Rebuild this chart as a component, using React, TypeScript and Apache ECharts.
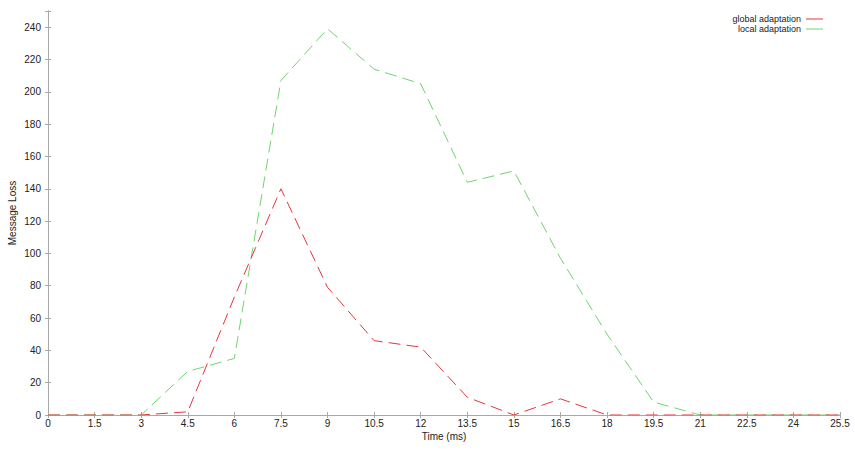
import React, { useEffect, useRef } from "react";
import * as echarts from "echarts";

const times = [0, 1.5, 3, 4.5, 6, 7.5, 9, 10.5, 12, 13.5, 15, 16.5, 18, 19.5, 21, 22.5, 24, 25.5];
const globalAdaptation = [0, 0, 0, 2, 73, 140, 79, 46, 42, 11, 0, 10, 0, 0, 0, 0, 0, 0];
const localAdaptation = [0, 0, 0, 27, 35, 207, 239, 214, 205, 144, 151, 97, 50, 8, 0, 0, 0, 0];
const seriesNames = ["global adaptation", "local adaptation"];
const xTitle = "Time (ms)";
const yTitle = "Message Loss";

const FONT = "Liberation Sans";
const AXIS_COLOR = "#a8a8a8";
const TEXT_COLOR = "#222222";

export default function App() {
  const ref = useRef<HTMLDivElement>(null);
  useEffect(() => {
    if (!ref.current) return;
    const chart = echarts.init(ref.current, null, { renderer: "svg" });
    const mk = (vals: number[]) => times.map((t, i) => [t, vals[i]]);
    const tickStyle = { show: true, inside: true, length: 3, lineStyle: { color: AXIS_COLOR } };
    chart.setOption({
      animation: false,
      backgroundColor: "#ffffff",
      textStyle: { fontFamily: FONT },
      grid: { left: 48, right: 15, top: 11, bottom: 35, containLabel: false, outerBoundsMode: "none" },
      legend: {
        orient: "vertical",
        right: 32,
        top: 14,
        padding: 0,
        align: "right",
        itemGap: 0,
        itemWidth: 17,
        itemHeight: 10,
        icon: "path://M0,4.5 L17,4.5 L17,5.5 L0,5.5 Z",
        textStyle: { fontFamily: FONT, fontSize: 9, lineHeight: 10, color: TEXT_COLOR },
        data: seriesNames,
      },
      xAxis: [
        {
          type: "value",
          min: 0,
          max: 25.5,
          interval: 1.5,
          name: xTitle,
          nameLocation: "middle",
          nameGap: 16,
          nameMoveOverlap: false,
          nameTextStyle: { fontFamily: FONT, fontSize: 10, color: TEXT_COLOR },
          axisLine: { show: true, lineStyle: { color: AXIS_COLOR, width: 1 } },
          axisTick: tickStyle,
          axisLabel: { fontFamily: FONT, fontSize: 10, color: TEXT_COLOR, margin: 3 },
          splitLine: { show: false },
        },
        {
          type: "value",
          position: "top",
          min: 0,
          max: 25.5,
          interval: 1.5,
          axisLine: { show: true, lineStyle: { color: AXIS_COLOR, width: 1 } },
          axisTick: tickStyle,
          axisLabel: { show: false },
          splitLine: { show: false },
        },
      ],
      yAxis: [
        {
          type: "value",
          min: 0,
          max: 250,
          interval: 20,
          name: yTitle,
          nameLocation: "middle",
          nameGap: 31,
          nameMoveOverlap: false,
          nameTextStyle: { fontFamily: FONT, fontSize: 10, color: TEXT_COLOR },
          axisLine: { show: true, lineStyle: { color: AXIS_COLOR, width: 1 } },
          axisTick: tickStyle,
          axisLabel: {
            fontFamily: FONT,
            fontSize: 10,
            color: TEXT_COLOR,
            margin: 7,
            formatter: (v: number) => (v > 240 ? "" : String(v)),
          },
          splitLine: { show: false },
        },
        {
          type: "value",
          position: "right",
          min: 0,
          max: 250,
          interval: 20,
          axisLine: { show: true, lineStyle: { color: AXIS_COLOR, width: 1 } },
          axisTick: tickStyle,
          axisLabel: { show: false },
          splitLine: { show: false },
        },
      ],
      series: [
        {
          name: seriesNames[1],
          type: "line",
          data: mk(localAdaptation),
          showSymbol: false,
          symbol: "none",
          color: "#6fd46f",
          lineStyle: { color: "#6fd46f", width: 1, type: [12, 6] },
        },
        {
          name: seriesNames[0],
          type: "line",
          data: mk(globalAdaptation),
          showSymbol: false,
          symbol: "none",
          color: "#e8343c",
          lineStyle: { color: "#e8343c", width: 1, type: [12, 6] },
        },
      ],
    });
    return () => chart.dispose();
  }, []);
  return <div ref={ref} style={{ width: 855, height: 450, position: "absolute", left: 0, top: 0 }} />;
}
